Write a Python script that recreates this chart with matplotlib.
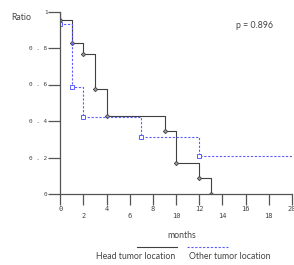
import matplotlib
matplotlib.use("Agg")
import matplotlib.pyplot as plt
from matplotlib.lines import Line2D

# survival data (start value 1 at t=0)
head_times = [0, 0, 1, 2, 3, 4, 9, 10, 12, 13]
head_ratio = [1.0, 0.955, 0.826, 0.765, 0.574, 0.43, 0.344, 0.172, 0.086, 0.0]
other_times = [0, 0, 1, 2, 7, 12]
other_ratio = [1.0, 0.93, 0.585, 0.42, 0.315, 0.21]
followup_end = 20

x_ticks = [0, 2, 4, 6, 8, 10, 12, 14, 16, 18, 20]
y_ticks = [0, 0.2, 0.4, 0.6, 0.8, 1]
y_labels = ["0", "0 . 2", "0 . 4", "0 . 6", "0 . 8", "1"]
p_text = "p = 0.896"

W, H = 294, 265
fig = plt.figure(figsize=(W / 100, H / 100), dpi=100)
ax = fig.add_axes([60.3 / W, 1 - 194 / H, (292 - 60.3) / W, (194 - 11.5) / H])

axis_col = "#555555"
head_col = "#404040"
other_col = "#5c5cff"

# head tumor curve
ax.step(head_times, head_ratio, where="post", color=head_col, lw=0.8,
        marker="D", markersize=2.2, mfc="#999999", mec=head_col, mew=0.6,
        markevery=list(range(1, len(head_times))), zorder=3)

# other tumor curve, extended to end of follow-up
ox = other_times + [followup_end]
oy = other_ratio + [other_ratio[-1]]
ax.step(ox, oy, where="post", color=other_col, lw=0.8, linestyle=(0, (2, 1.5)),
        marker="s", markersize=2.8, mfc="white", mec=other_col, mew=0.7,
        markevery=list(range(1, len(other_times))), zorder=3)

ax.set_xlim(0, 20)
ax.set_ylim(0, 1)
for s in ["top", "right"]:
    ax.spines[s].set_visible(False)
for s in ["left", "bottom"]:
    ax.spines[s].set_color(axis_col)
    ax.spines[s].set_linewidth(0.9)
    ax.spines[s].set_zorder(4)

mono = "DejaVu Sans Mono"
ax.set_yticks(y_ticks)
ax.set_yticklabels(y_labels, fontsize=4.3, family=mono, color="#444444")
ax.tick_params(axis="y", length=8.5, width=0.9, color=axis_col, pad=0.8)

# alternate x labels on two rows
ax.set_xticks(x_ticks[::2])
ax.set_xticklabels([str(t) for t in x_ticks[::2]], fontsize=5, family=mono, color="#444444")
ax.set_xticks(x_ticks[1::2], minor=True)
ax.set_xticklabels([str(t) for t in x_ticks[1::2]], minor=True, fontsize=5, family=mono, color="#444444")
ax.tick_params(axis="x", which="major", length=8, width=0.9, color=axis_col, pad=0.5)
ax.tick_params(axis="x", which="minor", length=8, width=0.9, color=axis_col, pad=6)

txt = dict(family="Lato", fontsize=6.3, color="#444444")
fig.text(21 / W, 1 - 17 / H, "Ratio", ha="center", va="center", **txt)
fig.text(255 / W, 1 - 25.7 / H, p_text, ha="center", va="center", **txt)
fig.text(182 / W, 1 - 235 / H, "months", ha="center", va="center", **txt)

# legend drawn below the axis label
ly = 1 - 246.7 / H
fig.add_artist(Line2D([137 / W, 177 / W], [ly, ly], color=head_col, lw=0.8))
fig.add_artist(Line2D([187 / W, 228 / W], [ly, ly], color=other_col, lw=0.8, linestyle=(0, (2, 1.5))))
fig.text(136 / W, 1 - 256.7 / H, "Head tumor location", ha="center", va="center", **txt)
fig.text(230 / W, 1 - 256.7 / H, "Other tumor location", ha="center", va="center", **txt)

fig.savefig("out.png", dpi=100)
